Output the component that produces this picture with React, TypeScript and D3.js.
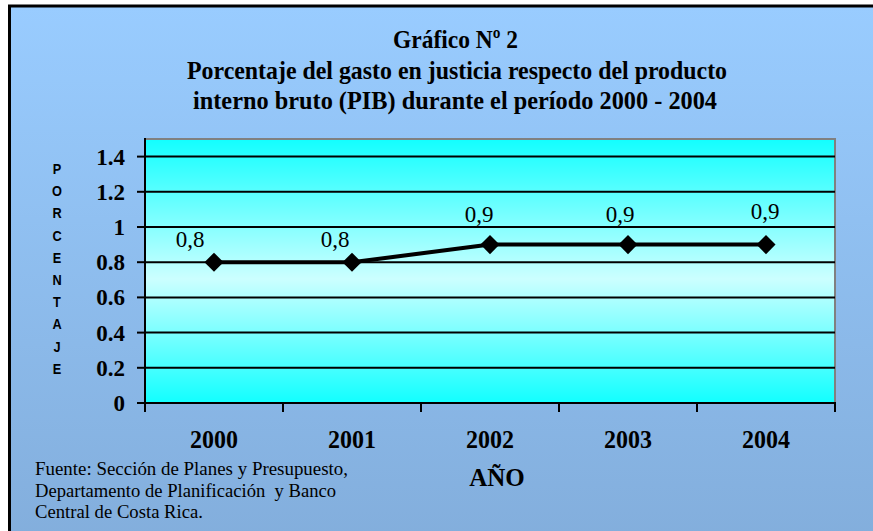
import React from "react";
import * as d3 from "d3";

const years = ["2000", "2001", "2002", "2003", "2004"];
const values = [0.8, 0.8, 0.9, 0.9, 0.9];
const valueLabels = ["0,8", "0,8", "0,9", "0,9", "0,9"];
const yTicks = [0, 0.2, 0.4, 0.6, 0.8, 1, 1.2, 1.4];
const yLabel = "PORCENTAJE";
const titleLines = [
  "Gráfico Nº 2",
  "Porcentaje del gasto en justicia respecto del producto",
  "interno bruto (PIB) durante el período 2000 - 2004",
];
const sourceLines = [
  "Fuente: Sección de Planes y Presupuesto,",
  "Departamento de Planificación  y Banco",
  "Central de Costa Rica.",
];
// label nudges (layout, px) relative to point
const labelNudge = [
  [-24, -15],
  [-17, -15],
  [-11, -23],
  [-8, -23],
  [-1, -26],
];

const W = 873;
const H = 531;
const plot = { left: 145, right: 835, top: 139, bottom: 403 };

export default function App() {
  const x = d3.scaleBand<string>().domain(years).range([plot.left, plot.right]);
  const y = d3.scaleLinear().domain([0, 1.5]).range([plot.bottom, plot.top]);
  const cx = (d: string) => (x(d) as number) + x.bandwidth() / 2;
  const line = d3
    .line<number>()
    .x((_, i) => cx(years[i]))
    .y((v) => y(v));
  const diamond = d3.symbol().type(d3.symbolSquare).size(13.5 * 13.5)();
  const tickEdges = years.map((d) => x(d) as number).concat([plot.right]);
  const serif = "'Liberation Serif', 'Times New Roman', serif";
  const sans = "'Liberation Sans', Arial, sans-serif";
  const titleGeom = [
    { cx: 455.5, base: 47.5, len: 125 },
    { cx: 457, base: 79, len: 540 },
    { cx: 455, base: 109, len: 524 },
  ];
  const srcGeom = [
    { base: 475, len: 313 },
    { base: 496.5, len: 301 },
    { base: 517.5, len: 168 },
  ];

  return (
    <svg
      width={W}
      height={H}
      style={{ position: "absolute", left: 0, top: 0, display: "block" }}
    >
      <defs>
        <linearGradient id="bg" x1="0" y1="0" x2="0" y2="1">
          <stop offset="0%" stopColor="#99CCFF" />
          <stop offset="100%" stopColor="#82ADDB" />
        </linearGradient>
        <linearGradient id="pg" x1="0" y1="0" x2="0" y2="1">
          <stop offset="0%" stopColor="#12FFFF" />
          <stop offset="53%" stopColor="#CCFFFF" />
          <stop offset="100%" stopColor="#12FFFF" />
        </linearGradient>
      </defs>
      <rect x={0} y={0} width={W} height={H} fill="#FFFFFF" />
      <rect x={9.5} y={6} width={W + 20} height={H + 20} fill="url(#bg)" stroke="#000" strokeWidth={3} />

      {titleLines.map((t, i) => (
        <text
          key={t}
          x={titleGeom[i].cx}
          y={titleGeom[i].base}
          textAnchor="middle"
          fontFamily={serif}
          fontWeight="bold"
          fontSize={26}
          textLength={titleGeom[i].len}
          lengthAdjust="spacingAndGlyphs"
          fill="#000"
        >
          {t}
        </text>
      ))}

      {/* plot area */}
      <rect
        x={plot.left}
        y={plot.top}
        width={plot.right - plot.left}
        height={plot.bottom - plot.top}
        fill="url(#pg)"
        stroke="#808080"
        strokeWidth={2}
      />

      {/* gridlines */}
      {yTicks.filter((t) => t > 0).map((t) => (
        <line
          key={"g" + t}
          x1={plot.left}
          x2={plot.right}
          y1={y(t)}
          y2={y(t)}
          stroke="#000"
          strokeWidth={2}
        />
      ))}

      {/* axes */}
      <line x1={plot.left} x2={plot.left} y1={plot.top - 1} y2={plot.bottom + 1} stroke="#000" strokeWidth={2} />
      <line x1={plot.left - 1} x2={plot.right + 1} y1={plot.bottom} y2={plot.bottom} stroke="#000" strokeWidth={2} />
      {yTicks.map((t) => (
        <g key={"yt" + t}>
          <line x1={plot.left - 8} x2={plot.left} y1={y(t)} y2={y(t)} stroke="#000" strokeWidth={2} />
          <text
            x={125}
            y={y(t) + 8}
            textAnchor="end"
            fontFamily={serif}
            fontWeight="bold"
            fontSize={23}
            fill="#000"
          >
            {String(t)}
          </text>
        </g>
      ))}
      {tickEdges.map((e, i) => (
        <line key={"xt" + i} x1={e} x2={e} y1={plot.bottom} y2={plot.bottom + 9} stroke="#000" strokeWidth={2} />
      ))}
      {years.map((d) => (
        <text
          key={"xl" + d}
          x={cx(d)}
          y={448}
          textAnchor="middle"
          fontFamily={serif}
          fontWeight="bold"
          fontSize={25}
          textLength={48}
          lengthAdjust="spacingAndGlyphs"
          fill="#000"
        >
          {d}
        </text>
      ))}
      <text x={497} y={486} textAnchor="middle" fontFamily={serif} fontWeight="bold" fontSize={25} fill="#000">
        AÑO
      </text>

      {/* y label stacked letters */}
      {yLabel.split("").map((c, i) => (
        <text
          key={"yl" + i}
          transform={`translate(57,${174 + i * 22.2}) scale(0.85,1)`}
          textAnchor="middle"
          fontFamily={sans}
          fontWeight="bold"
          fontSize={15}
          fill="#000"
        >
          {c}
        </text>
      ))}

      {/* series */}
      <path d={line(values) || ""} fill="none" stroke="#000" strokeWidth={4} strokeLinejoin="round" />
      {values.map((v, i) => (
        <path
          key={"m" + i}
          d={diamond || ""}
          transform={`translate(${cx(years[i])},${y(v)}) rotate(45)`}
          fill="#000"
        />
      ))}
      {values.map((v, i) => (
        <text
          key={"vl" + i}
          x={cx(years[i]) + labelNudge[i][0]}
          y={y(v) + labelNudge[i][1]}
          textAnchor="middle"
          fontFamily={serif}
          fontSize={23}
          fill="#000"
        >
          {valueLabels[i]}
        </text>
      ))}

      {sourceLines.map((s, i) => (
        <text
          key={"s" + i}
          x={35}
          y={srcGeom[i].base}
          fontFamily={serif}
          fontSize={18.5}
          textLength={srcGeom[i].len}
          lengthAdjust="spacingAndGlyphs"
          style={{ whiteSpace: "pre" }}
          fill="#000"
        >
          {s}
        </text>
      ))}
    </svg>
  );
}
